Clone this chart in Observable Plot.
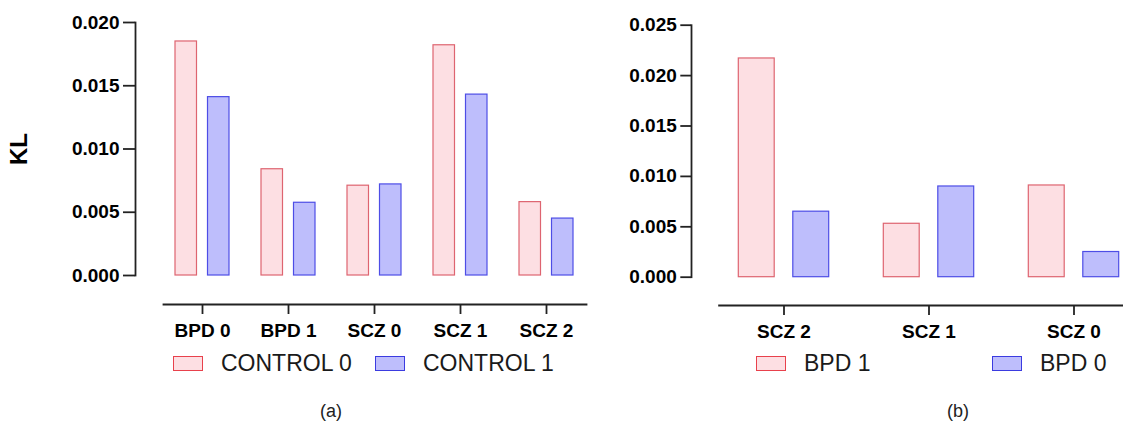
<!DOCTYPE html>
<html><head><meta charset="utf-8">
<script src="https://cdn.jsdelivr.net/npm/d3@7"></script>
<script src="https://cdn.jsdelivr.net/npm/@observablehq/plot@0.6"></script>
<style>
body{margin:0;background:#fff;font-family:"Liberation Sans",Arial,sans-serif;}
#root{position:relative;width:1123px;height:423px;overflow:hidden;background:#fff;}
.panel{position:absolute;top:0;}
.leg{position:absolute;top:352px;height:23px;display:flex;align-items:center;font-size:23px;line-height:1;color:#1a1a1a;white-space:nowrap;}
.sw{width:28px;height:13px;border:1px solid;margin-right:18px;box-sizing:content-box;}
.cap{position:absolute;top:402px;font-size:18px;line-height:1;color:#222;transform:translateX(-50%);}
.ylab{position:absolute;left:19px;top:149px;font-size:24px;font-weight:bold;line-height:1;color:#000;transform:translate(-50%,-50%) rotate(-90deg);}
</style>
</head><body>
<div id="root">
  <div class="panel" id="pa" style="left:0"></div>
  <div class="panel" id="pb" style="left:590px"></div>
  <div class="ylab">KL</div>
  <div class="leg" style="left:173px"><div class="sw" id="swA0"></div><span id="lgA0"></span></div>
  <div class="leg" style="left:375px"><div class="sw" id="swA1"></div><span id="lgA1"></span></div>
  <div class="leg" style="left:756px"><div class="sw" id="swB0"></div><span id="lgB0"></span></div>
  <div class="leg" style="left:992px"><div class="sw" id="swB1"></div><span id="lgB1"></span></div>
  <div class="cap" style="left:331px">(a)</div>
  <div class="cap" style="left:958px">(b)</div>
</div>
<script>
// ---- data ----
const categoriesA = ["BPD 0", "BPD 1", "SCZ 0", "SCZ 1", "SCZ 2"];
const control0 = [0.0185, 0.0084, 0.0071, 0.0182, 0.0058];
const control1 = [0.0141, 0.00575, 0.0072, 0.0143, 0.0045];
const seriesA = ["CONTROL 0", "CONTROL 1"];
const yTicksA = [0, 0.005, 0.010, 0.015, 0.020];

const categoriesB = ["SCZ 2", "SCZ 1", "SCZ 0"];
const bpd1 = [0.0217, 0.0053, 0.0091];
const bpd0 = [0.0065, 0.0090, 0.0025];
const seriesB = ["BPD 1", "BPD 0"];
const yTicksB = [0, 0.005, 0.010, 0.015, 0.020, 0.025];

// ---- styles ----
const pinkFill = "#fddfe3", pinkStroke = "#de6470";
const blueFill = "#bebefc", blueStroke = "#4d4de6";
const axisColor = "#222";
const fmt = d3.format(".3f");

const rowsA0 = categoriesA.map((c, i) => ({cat: c, v: control0[i]}));
const rowsA1 = categoriesA.map((c, i) => ({cat: c, v: control1[i]}));
const rowsB0 = categoriesB.map((c, i) => ({cat: c, v: bpd1[i]}));
const rowsB1 = categoriesB.map((c, i) => ({cat: c, v: bpd0[i]}));

const common = {
  height: 345,
  style: {fontFamily: '"Liberation Sans", Arial, sans-serif', color: "#000", background: "transparent", overflow: "visible"}
};

const plotA = Plot.plot({
  ...common,
  width: 590,
  marginTop: 22, marginLeft: 135, marginRight: 4, marginBottom: 41,
  x: {domain: categoriesA, range: [158, 589], padding: 0},
  y: {domain: [0, 0.02], range: [275, 22]},
  marks: [
    Plot.barY(rowsA0, {x: "cat", y: "v", fill: pinkFill, stroke: pinkStroke, strokeWidth: 1.2, insetLeft: 16, insetRight: 48.5}),
    Plot.barY(rowsA1, {x: "cat", y: "v", fill: blueFill, stroke: blueStroke, strokeWidth: 1.2, insetLeft: 48.5, insetRight: 16}),
    Plot.frame({anchor: "left", insetBottom: 29, stroke: axisColor, strokeWidth: 1.8}),
    Plot.frame({anchor: "bottom", insetLeft: 28, stroke: axisColor, strokeWidth: 1.8}),
    Plot.axisY(yTicksA, {tickSize: 12, tickPadding: 4, tickFormat: fmt, fontSize: 19, fontWeight: "bold", stroke: axisColor, strokeWidth: 1.8, label: null}),
    Plot.axisX({tickSize: 10, tickPadding: 9, fontSize: 19, fontWeight: "bold", stroke: axisColor, strokeWidth: 1.8, label: null})
  ]
});

const plotB = Plot.plot({
  ...common,
  width: 533,
  marginTop: 24.7, marginLeft: 101, marginRight: 0, marginBottom: 40,
  x: {domain: categoriesB, range: [120, 557], padding: 0},
  y: {domain: [0, 0.025], range: [276.7, 24.7]},
  marks: [
    Plot.barY(rowsB0, {x: "cat", y: "v", fill: pinkFill, stroke: pinkStroke, strokeWidth: 1.2, insetLeft: 27.3, insetRight: 81.8}),
    Plot.barY(rowsB1, {x: "cat", y: "v", fill: blueFill, stroke: blueStroke, strokeWidth: 1.2, insetLeft: 81.8, insetRight: 27.3}),
    Plot.frame({anchor: "left", insetBottom: 28.3, stroke: axisColor, strokeWidth: 1.8}),
    Plot.frame({anchor: "bottom", insetLeft: 27.6, stroke: axisColor, strokeWidth: 1.8}),
    Plot.axisY(yTicksB, {tickSize: 10.7, tickPadding: 4, tickFormat: fmt, fontSize: 19, fontWeight: "bold", stroke: axisColor, strokeWidth: 1.8, label: null}),
    Plot.axisX({tickSize: 10, tickPadding: 9, fontSize: 19, fontWeight: "bold", stroke: axisColor, strokeWidth: 1.8, label: null})
  ]
});

document.getElementById("pa").appendChild(plotA);
document.getElementById("pb").appendChild(plotB);

// legends
function sw(id, fill, stroke) {
  const e = document.getElementById(id);
  e.style.background = fill; e.style.borderColor = stroke;
}
sw("swA0", pinkFill, "#e8414c"); sw("swA1", blueFill, "#3b3be0");
sw("swB0", pinkFill, "#e8414c"); sw("swB1", blueFill, "#3b3be0");
document.getElementById("lgA0").textContent = seriesA[0];
document.getElementById("lgA1").textContent = seriesA[1];
document.getElementById("lgB0").textContent = seriesB[0];
document.getElementById("lgB1").textContent = seriesB[1];
</script>
</body></html>
